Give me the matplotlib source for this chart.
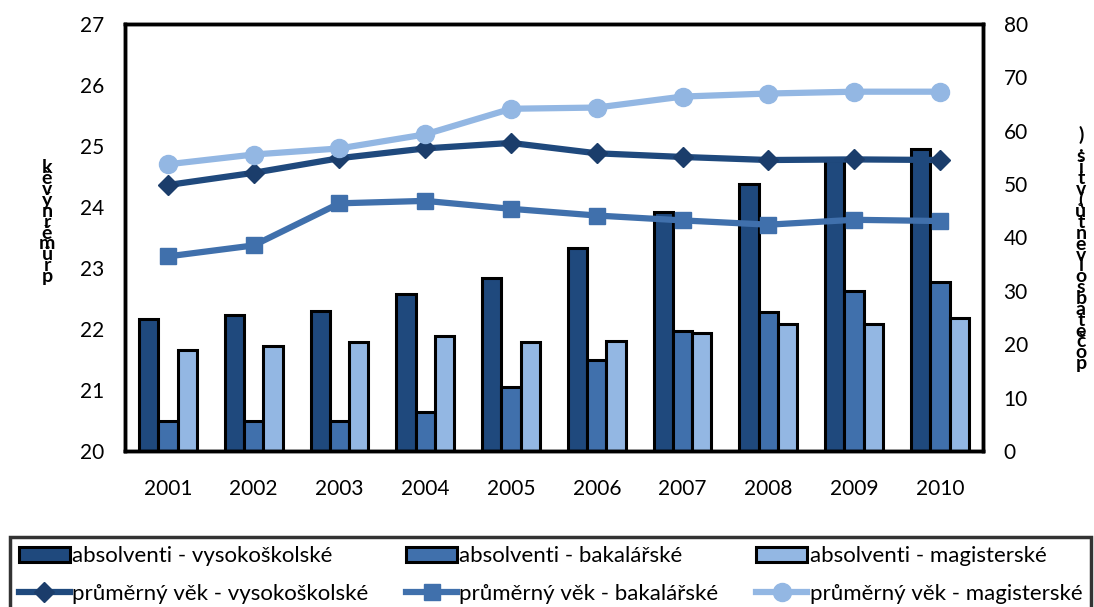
import numpy as np
import matplotlib.pyplot as plt
from matplotlib.lines import Line2D
from matplotlib.patches import Patch

plt.rcParams['font.family'] = ['Lato', 'DejaVu Sans']

years = ['2001', '2002', '2003', '2004', '2005', '2006', '2007', '2008', '2009', '2010']

# pocet absolventu (v tis.) - prava osa
abs_vs = [24.7, 25.4, 26.2, 29.5, 32.5, 38.1, 44.7, 50.1, 54.5, 56.6]
abs_bc = [5.6, 5.6, 5.6, 7.3, 12.0, 17.0, 22.4, 26.0, 29.9, 31.6]
abs_mg = [18.9, 19.6, 20.4, 21.5, 20.4, 20.7, 22.1, 23.7, 23.7, 24.9]

# prumerny vek - leva osa
vek_vs = [24.36, 24.56, 24.80, 24.96, 25.05, 24.88, 24.82, 24.77, 24.78, 24.77]
vek_bc = [23.19, 23.37, 24.06, 24.10, 23.97, 23.86, 23.78, 23.71, 23.79, 23.77]
vek_mg = [24.70, 24.86, 24.96, 25.19, 25.61, 25.63, 25.81, 25.86, 25.89, 25.89]

c_dark = '#1f497d'
c_mid = '#4070ac'
c_light = '#93b7e3'

fig = plt.figure(figsize=(10.94, 6.07), dpi=100)
ax = fig.add_axes([0.1143, 0.257, 0.784, 0.7035])
ax2 = ax.twinx()

x = np.arange(len(years))
w = 0.225
ax.bar(x - w, abs_vs, w, color=c_dark, edgecolor='black', linewidth=2.2)
ax.bar(x, abs_bc, w, color=c_mid, edgecolor='black', linewidth=2.2)
ax.bar(x + w, abs_mg, w, color=c_light, edgecolor='black', linewidth=2.2)
ax.set_ylim(0, 80)
ax.set_xlim(-0.5, len(years) - 0.5)
ax.set_xticks(x)
ax.set_xticklabels(years)
ax.yaxis.tick_right()
ax.set_yticks(np.arange(0, 81, 10))

ax2.plot(x, vek_vs, color=c_dark, lw=4.5, marker='D', ms=10, mfc='#1b3d6b', mec='#1b3d6b')
ax2.plot(x, vek_bc, color=c_mid, lw=4.5, marker='s', ms=12, mfc=c_mid, mec=c_mid)
ax2.plot(x, vek_mg, color=c_light, lw=4.5, marker='o', ms=13, mfc=c_light, mec=c_light)
ax2.set_ylim(20, 27)
ax2.yaxis.tick_left()
ax2.set_yticks(np.arange(20, 28, 1))

for a in (ax, ax2):
    a.tick_params(length=0, labelsize=15)
    for s in a.spines.values():
        s.set_linewidth(2.5)
        s.set_color('black')
ax.tick_params(axis='x', pad=20)
ax2.tick_params(axis='y', pad=15)
ax.tick_params(axis='y', pad=15)

# svisle popisky os (znaky nad sebou)
fig.text(0.043, 0.634, '\n'.join(reversed(list('průměrnývěk'))), ha='center', va='center',
         fontsize=14, fontweight='bold', linespacing=0.56)
fig.text(0.988, 0.59, '\n'.join(reversed(list('počet absolventů (v tis.)'.replace(' ', '')))),
         ha='center', va='center', fontsize=14, fontweight='bold', linespacing=0.56)

handles = [
    Patch(facecolor=c_dark, edgecolor='black', linewidth=2.2),
    Line2D([], [], color=c_dark, lw=4.5, marker='D', ms=10, mfc='#1b3d6b', mec='#1b3d6b'),
    Patch(facecolor=c_mid, edgecolor='black', linewidth=2.2),
    Line2D([], [], color=c_mid, lw=4.5, marker='s', ms=12, mfc=c_mid, mec=c_mid),
    Patch(facecolor=c_light, edgecolor='black', linewidth=2.2),
    Line2D([], [], color=c_light, lw=4.5, marker='o', ms=13, mfc=c_light, mec=c_light),
]
labels = ['absolventi - vysokoškolské', 'průměrný věk - vysokoškolské',
          'absolventi - bakalářské', 'průměrný věk - bakalářské',
          'absolventi - magisterské', 'průměrný věk - magisterské']
leg = fig.legend(handles, labels, ncol=3, loc='upper left', bbox_to_anchor=(0.009, 0.115),
                 fontsize=16, frameon=True, fancybox=False, handlelength=2.3,
                 handletextpad=0.1, borderaxespad=0, labelspacing=0.8,
                 columnspacing=1.7, borderpad=0.4)
leg.get_frame().set_edgecolor('black')
leg.get_frame().set_linewidth(2.5)

plt.savefig('out.png')
